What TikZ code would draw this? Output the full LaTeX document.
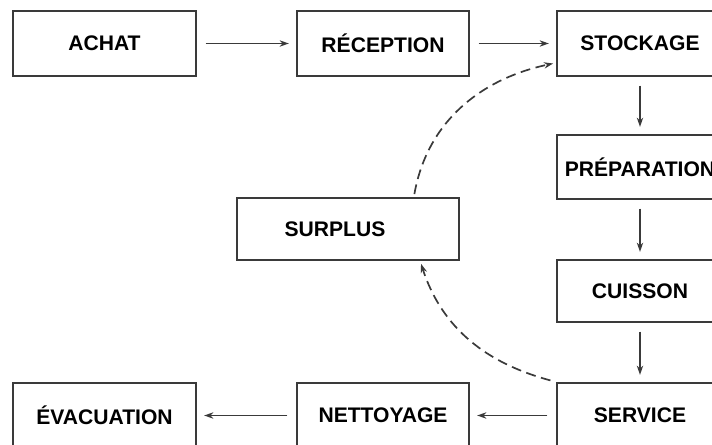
\documentclass[tikz,border=0pt]{standalone}
\usepackage{fontspec}
\setmainfont{Liberation Sans}
\usetikzlibrary{arrows.meta, calc, positioning}
\definecolor{cTrait}{HTML}{3A3A3A}
\tikzset{
    etape/.style={draw=cTrait, line width=1.6pt, fill=white, align=center,
                  font=\bfseries\fontsize{15pt}{18pt}\selectfont, inner sep=2pt},
    flux/.style={-{Stealth[length=6.5pt, width=4.5pt]}, line width=1.2pt, cTrait,
                 shorten <=6pt, shorten >=5pt},
    retour/.style={flux, dash pattern=on 7pt off 4pt},
}

\begin{document}
\begin{tikzpicture}[x=0.025cm, y=-0.025cm]
\useasboundingbox[fill=white] (0,0) rectangle (712,445);

% ligne du haut
\node[etape, minimum width=4.575cm, minimum height=1.625cm] (achat) at (104.5,43.5) {ACHAT};
\node[etape, minimum width=4.3cm, minimum height=1.625cm] (reception) at (383,43.5) {RÉCEPTION};
\node[etape, minimum width=4.15cm, minimum height=1.625cm] (stockage) at (640,43.5) {STOCKAGE};

% colonne de droite
\node[etape, minimum width=4.15cm, minimum height=1.6cm] (preparation) at (640,167) {PRÉPARATION};
\node[etape, minimum width=4.15cm, minimum height=1.55cm] (cuisson) at (640,291) {CUISSON};
\node[etape, minimum width=4.15cm, minimum height=1.625cm] (service) at (640,415.5) {SERVICE};

% ligne du bas
\node[etape, minimum width=4.3cm, minimum height=1.625cm] (nettoyage) at (383,415.5) {NETTOYAGE};
\node[etape, minimum width=4.575cm, minimum height=1.625cm] (evacuation) at (104.5,415.5) {ÉVACUATION};

\node[etape, minimum width=5.55cm, minimum height=1.55cm] (surplus) at (348,229) {SURPLUS\hspace*{0.65cm}};

% circuit principal
\draw[flux] (achat) -- (reception);
\draw[flux] (reception) -- (stockage);
\draw[flux] (stockage) -- (preparation);
\draw[flux] (preparation) -- (cuisson);
\draw[flux] (cuisson) -- (service);
\draw[flux] (service) -- (nettoyage);
\draw[flux] (nettoyage) -- (evacuation);

% retours des surplus
\draw[retour, shorten <=4pt, shorten >=2pt] (service.north west) to[out=165, in=-72] (surplus.-24);
\draw[retour, shorten <=2pt, shorten >=2pt] (surplus.26) to[out=80, in=192] (stockage.193);

\end{tikzpicture}
\end{document}
